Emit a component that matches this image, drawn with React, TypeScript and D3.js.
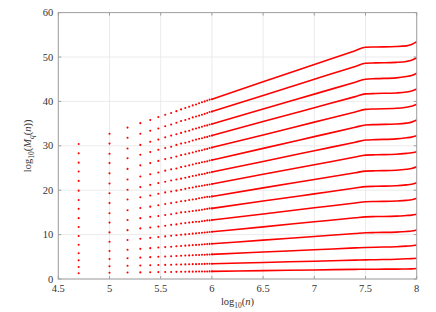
import React from "react";
import { curveMonotoneX, line, scaleLinear } from "d3";

const xTicks = [4.5, 5, 5.5, 6, 6.5, 7, 7.5, 8];
const yTicks = [0, 10, 20, 30, 40, 50, 60];

// sample sizes n where the separate dots are visible (left part)
const dotN = [
  50000, 100000, 150000, 200000, 250000, 300000, 350000, 400000, 450000, 500000,
  550000, 600000, 650000, 700000, 750000, 800000, 850000, 900000, 950000, 1000000,
];

// log10(M_q(n)) at dotN, q = 1..16 (bottom to top)
const dotRows = [
  [1.30, 1.40, 1.45, 1.49, 1.52, 1.55, 1.57, 1.59, 1.61, 1.62, 1.63, 1.65, 1.66, 1.67, 1.68, 1.69, 1.69, 1.70, 1.71, 1.72],
  [2.70, 2.87, 2.97, 3.04, 3.10, 3.14, 3.18, 3.22, 3.25, 3.27, 3.29, 3.32, 3.34, 3.35, 3.37, 3.39, 3.40, 3.42, 3.43, 3.44],
  [4.20, 4.51, 4.69, 4.82, 4.92, 5.01, 5.08, 5.14, 5.19, 5.24, 5.28, 5.32, 5.35, 5.39, 5.42, 5.45, 5.47, 5.50, 5.53, 5.55],
  [5.80, 6.30, 6.58, 6.79, 6.95, 7.08, 7.19, 7.28, 7.37, 7.44, 7.51, 7.57, 7.63, 7.68, 7.73, 7.78, 7.82, 7.86, 7.90, 7.94],
  [7.70, 8.38, 8.77, 9.06, 9.27, 9.45, 9.60, 9.73, 9.85, 9.95, 10.04, 10.13, 10.21, 10.28, 10.35, 10.41, 10.47, 10.52, 10.58, 10.63],
  [9.7, 10.5, 11.0, 11.4, 11.6, 11.8, 12.0, 12.2, 12.3, 12.5, 12.6, 12.7, 12.8, 12.9, 12.9, 13.0, 13.1, 13.2, 13.2, 13.3],
  [11.7, 12.7, 13.3, 13.7, 14.0, 14.2, 14.4, 14.6, 14.8, 15.0, 15.1, 15.2, 15.3, 15.4, 15.5, 15.6, 15.7, 15.8, 15.9, 15.9],
  [13.7, 14.8, 15.5, 16.0, 16.3, 16.6, 16.9, 17.1, 17.3, 17.5, 17.6, 17.8, 17.9, 18.0, 18.2, 18.3, 18.4, 18.5, 18.5, 18.6],
  [15.8, 17.1, 17.9, 18.4, 18.8, 19.2, 19.5, 19.7, 19.9, 20.1, 20.3, 20.5, 20.6, 20.8, 20.9, 21.0, 21.1, 21.2, 21.3, 21.4],
  [17.8, 19.3, 20.1, 20.7, 21.2, 21.6, 21.9, 22.2, 22.4, 22.6, 22.8, 23.0, 23.2, 23.3, 23.5, 23.6, 23.7, 23.9, 24.0, 24.1],
  [19.9, 21.5, 22.4, 23.1, 23.6, 24.0, 24.4, 24.7, 24.9, 25.2, 25.4, 25.6, 25.8, 26.0, 26.1, 26.3, 26.4, 26.5, 26.7, 26.8],
  [22.1, 23.8, 24.8, 25.6, 26.1, 26.6, 27.0, 27.3, 27.6, 27.9, 28.1, 28.3, 28.5, 28.7, 28.9, 29.0, 29.2, 29.3, 29.5, 29.6],
  [24.2, 26.1, 27.2, 28.0, 28.6, 29.1, 29.5, 29.8, 30.2, 30.5, 30.7, 30.9, 31.2, 31.4, 31.6, 31.7, 31.9, 32.0, 32.2, 32.3],
  [26.2, 28.2, 29.4, 30.2, 30.9, 31.4, 31.9, 32.3, 32.6, 32.9, 33.2, 33.4, 33.7, 33.9, 34.1, 34.3, 34.5, 34.6, 34.8, 34.9],
  [28.3, 30.5, 31.8, 32.7, 33.4, 33.9, 34.4, 34.8, 35.2, 35.6, 35.8, 36.1, 36.4, 36.6, 36.8, 37.0, 37.2, 37.4, 37.6, 37.7],
  [30.4, 32.7, 34.1, 35.1, 35.8, 36.5, 37.0, 37.4, 37.8, 38.2, 38.5, 38.8, 39.1, 39.3, 39.6, 39.8, 40.0, 40.2, 40.4, 40.5],
];

// dense part, where the dots merge into a line
const lineLogN = [6, 6.5, 7, 7.4, 7.5, 7.6, 7.8, 7.9, 7.95, 8];
const lineRows = [
  [1.72, 1.88, 2.04, 2.17, 2.20, 2.21, 2.23, 2.25, 2.29, 2.38],
  [3.44, 3.73, 4.01, 4.24, 4.30, 4.35, 4.45, 4.55, 4.59, 4.68],
  [5.55, 6.07, 6.58, 7.00, 7.10, 7.16, 7.27, 7.40, 7.49, 7.66],
  [7.94, 8.76, 9.58, 10.24, 10.40, 10.46, 10.56, 10.70, 10.81, 11.04],
  [10.63, 11.75, 12.88, 13.78, 14.00, 14.06, 14.16, 14.30, 14.39, 14.57],
  [13.3, 14.65, 16.03, 17.13, 17.4, 17.46, 17.56, 17.7, 17.84, 18.18],
  [15.9, 17.55, 19.18, 20.48, 20.8, 20.88, 21.0, 21.2, 21.36, 21.69],
  [18.6, 20.52, 22.41, 23.92, 24.3, 24.38, 24.5, 24.7, 24.89, 25.29],
  [21.4, 23.58, 25.74, 27.47, 27.9, 27.98, 28.1, 28.3, 28.43, 28.67],
  [24.1, 26.48, 28.89, 30.82, 31.3, 31.4, 31.56, 31.8, 31.96, 32.27],
  [26.8, 29.42, 32.06, 34.17, 34.7, 34.78, 34.9, 35.1, 35.33, 35.81],
  [29.6, 32.45, 35.33, 37.63, 38.2, 38.3, 38.45, 38.7, 38.9, 39.35],
  [32.3, 35.45, 38.58, 41.08, 41.7, 41.78, 41.9, 42.1, 42.34, 42.79],
  [34.9, 38.29, 41.64, 44.33, 45.0, 45.12, 45.3, 45.6, 45.82, 46.33],
  [37.7, 41.35, 44.98, 47.88, 48.6, 48.68, 48.8, 49.0, 49.27, 49.84],
  [40.5, 44.42, 48.31, 51.42, 52.2, 52.26, 52.35, 52.5, 52.8, 53.45],
];

const width = 436;
const height = 312;
const font = "Liberation Serif, DejaVu Serif, serif";

export default function App() {
  const x = scaleLinear().domain([4.5, 8]).range([58.3, 416.7]);
  const y = scaleLinear().domain([0, 60]).range([279, 12.6]);
  const [x0, x1] = x.range();
  const [y0, y1] = y.range();

  const curve = line<[number, number]>()
    .x((d) => x(d[0]))
    .y((d) => y(d[1]))
    .curve(curveMonotoneX);

  const axisColor = "#a0a0a0";
  const gridColor = "#e6e6e6";
  const textStyle = { fontFamily: font, fontSize: 10.5 };

  return (
    <svg
      width={width}
      height={height}
      style={{ position: "absolute", left: 0, top: 0, background: "#fff" }}
    >
      {/* grid */}
      {xTicks.map((t) => (
        <line key={"gx" + t} x1={x(t)} x2={x(t)} y1={y0} y2={y1} stroke={gridColor} strokeWidth={0.8} />
      ))}
      {yTicks.map((t) => (
        <line key={"gy" + t} x1={x0} x2={x1} y1={y(t)} y2={y(t)} stroke={gridColor} strokeWidth={0.8} />
      ))}

      {/* lines in the dense part */}
      {lineRows.map((row, i) => (
        <path
          key={"l" + i}
          d={curve(lineLogN.map((l, j) => [l, row[j]] as [number, number])) || ""}
          fill="none"
          stroke="#ff0000"
          strokeWidth={1.6}
        />
      ))}

      {/* separate dots */}
      {dotRows.map((row, i) =>
        row.map((v, j) => (
          <circle key={"d" + i + "-" + j} cx={x(Math.log10(dotN[j]))} cy={y(v)} r={1.05} fill="#ff0000" />
        ))
      )}

      {/* frame and ticks */}
      <rect x={x0} y={y1} width={x1 - x0} height={y0 - y1} fill="none" stroke={axisColor} strokeWidth={1} />
      {xTicks.map((t) => (
        <g key={"tx" + t}>
          <line x1={x(t)} x2={x(t)} y1={y0} y2={y0 - 3} stroke={axisColor} />
          <line x1={x(t)} x2={x(t)} y1={y1} y2={y1 + 3} stroke={axisColor} />
          <text x={x(t)} y={y0 + 13} textAnchor="middle" style={textStyle} fill="#333">
            {String(t)}
          </text>
        </g>
      ))}
      {yTicks.map((t) => (
        <g key={"ty" + t}>
          <line x1={x0} x2={x0 + 3} y1={y(t)} y2={y(t)} stroke={axisColor} />
          <line x1={x1} x2={x1 - 3} y1={y(t)} y2={y(t)} stroke={axisColor} />
          <text x={x0 - 5} y={y(t) + 3.5} textAnchor="end" style={textStyle} fill="#333">
            {String(t)}
          </text>
        </g>
      ))}

      {/* axis labels */}
      <text x={(x0 + x1) / 2} y={305} textAnchor="middle" style={textStyle} fill="#333">
        log
        <tspan fontSize={7.5} dy={2.5}>10</tspan>
        <tspan dy={-2.5}>(</tspan>
        <tspan fontStyle="italic">n</tspan>)
      </text>
      <text
        transform={`translate(31,${(y0 + y1) / 2}) rotate(-90)`}
        textAnchor="middle"
        style={textStyle}
        fill="#333"
      >
        log
        <tspan fontSize={7.5} dy={2.5}>10</tspan>
        <tspan dy={-2.5}>(</tspan>
        <tspan fontStyle="italic">M</tspan>
        <tspan fontSize={7.5} fontStyle="italic" dy={2.5}>q</tspan>
        <tspan dy={-2.5}>(</tspan>
        <tspan fontStyle="italic">n</tspan>))
      </text>
    </svg>
  );
}
